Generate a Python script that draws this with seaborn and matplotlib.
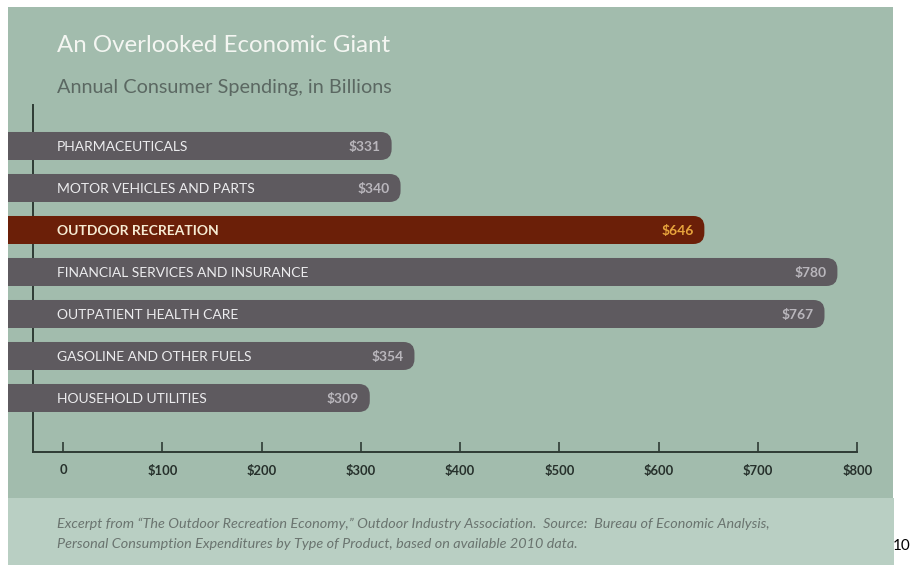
import matplotlib
matplotlib.use('Agg')
import matplotlib.pyplot as plt
import seaborn as sns
import pandas as pd
from matplotlib.patches import FancyBboxPatch, Rectangle

# ---- data ----
categories = ["PHARMACEUTICALS", "MOTOR VEHICLES AND PARTS", "OUTDOOR RECREATION",
              "FINANCIAL SERVICES AND INSURANCE", "OUTPATIENT HEALTH CARE",
              "GASOLINE AND OTHER FUELS", "HOUSEHOLD UTILITIES"]
values = [331, 340, 646, 780, 767, 354, 309]
tick_values = [0, 100, 200, 300, 400, 500, 600, 700, 800]
tick_labels = ["0", "$100", "$200", "$300", "$400", "$500", "$600", "$700", "$800"]
highlight = "OUTDOOR RECREATION"

title = "An Overlooked Economic Giant"
subtitle = "Annual Consumer Spending, in Billions"
caption = ("Excerpt from \u201cThe Outdoor Recreation Economy,\u201d Outdoor Industry Association.  "
           "Source:  Bureau of Economic Analysis,\n"
           "Personal Consumption Expenditures by Type of Product, based on available 2010 data.")

# ---- style ----
panel_bg = "#a2bcad"
caption_bg = "#b9cfc3"
bar_grey = "#5e5a5f"
bar_red = "#6b1f08"
axis_col = "#2e3b34"

plt.rcParams['font.family'] = ['Lato', 'DejaVu Sans']

W, H = 912, 565
fig = plt.figure(figsize=(W / 100, H / 100), dpi=100)
fig.patch.set_facecolor('white')

def fx(px):
    return px / W

def fy(py):
    return 1 - py / H

fig.patches.append(Rectangle((fx(8), 0), fx(894) - fx(8), fy(498), transform=fig.transFigure,
                             facecolor=caption_bg, edgecolor='none', zorder=-2))
fig.patches.append(Rectangle((fx(8), fy(498)), fx(893) - fx(8), fy(7) - fy(498), transform=fig.transFigure,
                             facecolor=panel_bg, edgecolor='none', zorder=-1))

ax = fig.add_axes([fx(8), fy(452), fx(893) - fx(8), fy(105) - fy(452)])
ax.set_facecolor('none')

df = pd.DataFrame({"category": categories, "value": values})
palette = {c: (bar_red if c == highlight else bar_grey) for c in categories}
sns.barplot(data=df, x="value", y="category", hue="category", palette=palette,
            order=categories, hue_order=categories, legend=False, width=0.667,
            orient='h', saturation=1, ax=ax)

xmin, xmax = -55.4, 836
ymin, ymax = -0.976, 7.286
ax.set_xlim(xmin, xmax)
ax.set_ylim(ymax, ymin)

# replace bars by rounded-end bars that run from the left panel edge
px_per_x = (893 - 8) / (xmax - xmin)
px_per_y = (452 - 105) / (ymax - ymin)
r_px = 11
r_x = r_px / px_per_x
asp = (r_px / px_per_y) / r_x
for p in list(ax.patches):
    y, h, w = p.get_y(), p.get_height(), p.get_width()
    fc = p.get_facecolor()
    p.remove()
    fb = FancyBboxPatch((-150, y), w + 150, h,
                        boxstyle=f"round,pad=0,rounding_size={r_x}",
                        mutation_aspect=asp, facecolor=fc, edgecolor='none', zorder=3)
    ax.add_patch(fb)

for i, (c, v) in enumerate(zip(categories, values)):
    hl = c == highlight
    ax.text(-6, i + 0.02, c, ha='left', va='center', fontsize=10,
            fontweight='bold' if hl else 'normal',
            color="#f6ead2" if hl else "#ececee", zorder=4)
    ax.text(v - 11, i + 0.02, f"${v}", ha='right', va='center', fontsize=10,
            fontweight='bold', color="#e7a33c" if hl else "#b9b6bc", zorder=4)

# axes lines
for s in ['top', 'right']:
    ax.spines[s].set_visible(False)
x_axis_left = (33 - 63) / px_per_x
ax.spines['left'].set_position(('data', x_axis_left))
ax.spines['bottom'].set_bounds(x_axis_left, 800)
for s in ['left', 'bottom']:
    ax.spines[s].set_color(axis_col)
    ax.spines[s].set_linewidth(1.4)
    ax.spines[s].set_zorder(2)

ax.set_yticks([])
ax.set_xticks(tick_values)
ax.set_xticklabels(tick_labels)
ax.tick_params(axis='x', direction='in', length=7.5, width=1.2, color=axis_col,
               pad=9, labelsize=9.4, labelcolor="#26302b")
for lbl in ax.get_xticklabels():
    lbl.set_fontweight('bold')
ax.set_xlabel('')
ax.set_ylabel('')

# titles and caption
fig.text(fx(57), fy(45), title, ha='left', va='center', fontsize=17.3, color="#f4f6f2")
fig.text(fx(57), fy(87), subtitle, ha='left', va='center', fontsize=14.3, color="#5b6862")
fig.text(fx(57), fy(534), caption, ha='left', va='center', fontsize=10.4, style='italic',
         color="#6a746f", linespacing=1.75)
fig.text(fx(893), fy(546), "10", ha='left', va='center', fontsize=11, color="black")

fig.savefig("out.png", dpi=100, facecolor=fig.get_facecolor())
